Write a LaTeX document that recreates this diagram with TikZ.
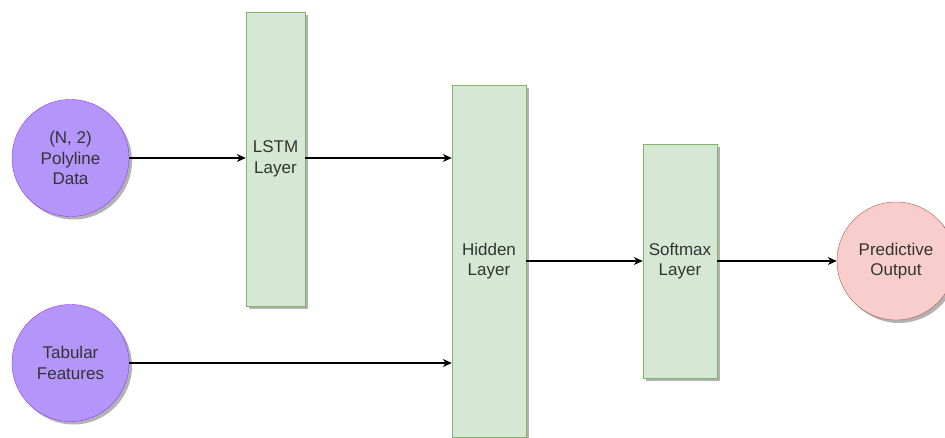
\documentclass[tikz,border=0pt]{standalone}
\usepackage{fontspec}
\setmainfont{Liberation Sans}
\usetikzlibrary{shadows,arrows.meta}

\definecolor{inputfill}{RGB}{180,150,250}
\definecolor{inputline}{RGB}{153,51,255}
\definecolor{layerfill}{RGB}{213,232,212}
\definecolor{layerline}{RGB}{130,179,102}
\definecolor{outfill}{RGB}{248,206,204}
\definecolor{outline}{RGB}{184,84,80}
\definecolor{txt}{RGB}{51,51,51}

\tikzset{
	shade/.style={drop shadow={shadow xshift=3pt,shadow yshift=-3pt,fill=black!30,opacity=1}},
	inputnode/.style={circle,shade,draw=inputline,fill=inputfill,minimum size=117pt,inner sep=0pt,align=center,text=txt},
	outnode/.style={circle,shade,draw=outline,fill=outfill,minimum size=118pt,inner sep=0pt,align=center,text=txt},
	layerbox/.style={rectangle,shade,draw=layerline,fill=layerfill,inner sep=0pt,align=center,text=txt},
	link/.style={-{Stealth[length=9pt,width=8pt]},line width=1.2pt}
}

\begin{document}
\begin{tikzpicture}[x=1pt,y=-1pt,font=\fontsize{17}{20.5}\selectfont]
	\useasboundingbox (0,0) rectangle (945,438);
	
	% inputs
	\node[inputnode] (poly) at (70.5,158) {(N, 2)\\Polyline\\Data};
	\node[inputnode] (tab) at (70.5,363) {Tabular\\Features};
	
	% layers
	\node[layerbox,minimum width=59pt,minimum height=294pt] (lstm) at (275.5,159) {LSTM\\Layer};
	\node[layerbox,minimum width=74pt,minimum height=352pt] (hidden) at (489,261) {Hidden\\Layer};
	\node[layerbox,minimum width=74pt,minimum height=234pt] (softmax) at (680,261) {Softmax\\Layer};
	
	% output
	\node[outnode] (pred) at (896,261) {Predictive\\Output};
	
	\draw[link] (poly.east) -- (poly.east -| lstm.west);
	\draw[link] (lstm.east |- poly.east) -- (hidden.west |- poly.east);
	\draw[link] (tab.east) -- (tab.east -| hidden.west);
	\draw[link] (hidden.east) -- (softmax.west);
	\draw[link] (softmax.east) -- (pred.west);
\end{tikzpicture}
\end{document}
